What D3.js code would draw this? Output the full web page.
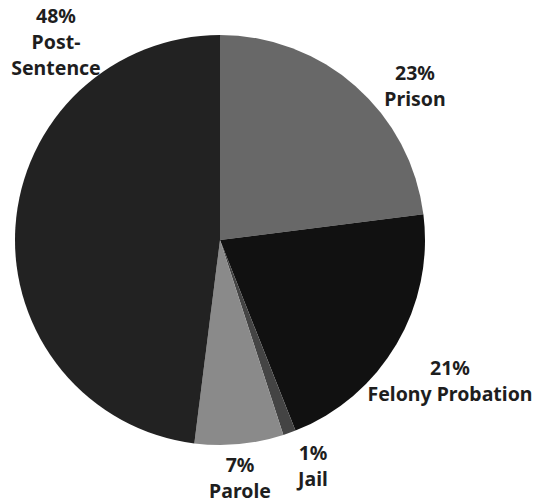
<!DOCTYPE html>
<html>
<head>
<meta charset="utf-8">
<script src="https://cdn.jsdelivr.net/npm/d3@7"></script>
<style>
  body { margin: 0; background: #fff; }
  text { font-family: "Noto Sans", sans-serif; font-weight: 700; fill: #1e1e1e; }
</style>
</head>
<body>
<div id="chart"></div>
<script>
// slices, clockwise from 12 o'clock
const categories = ['Prison', 'Felony Probation', 'Jail', 'Parole', 'Post-Sentence'];
const shares = [23, 21, 1, 7, 48];
const labelLines = [['23%', 'Prison'], ['21%', 'Felony Probation'], ['1%', 'Jail'], ['7%', 'Parole'], ['48%', 'Post-', 'Sentence']];

const colors = ['#686868', '#111111', '#444444', '#8a8a8a', '#222222'];
// label anchor (baseline of first line) in page coordinates
const labelPos = [[415, 80], [450, 375], [313, 460], [240, 472], [56, 23]];

const width = 535;
const height = 503;
const cx = 220, cy = 240;
const radius = 205;

const svg = d3.select('#chart')
  .append('svg')
    .attr('width', width)
    .attr('height', height);

const g = svg.append('g')
  .attr('transform', 'translate(' + cx + ',' + cy + ')');

const pie = d3.pie()
  .sort(null)
  .value((d) => d);
const data_ready = pie(shares);

const arc = d3.arc()
  .innerRadius(0)
  .outerRadius(radius);

g.selectAll('path')
  .data(data_ready)
  .enter()
  .append('path')
    .attr('d', arc)
    .attr('fill', (d, i) => colors[i]);

const labels = svg.selectAll('text.lbl')
  .data(labelLines)
  .enter()
  .append('text')
    .attr('class', 'lbl')
    .attr('text-anchor', 'middle')
    .attr('font-size', 19.5)
    .attr('x', (d, i) => labelPos[i][0])
    .attr('y', (d, i) => labelPos[i][1]);

labels.selectAll('tspan')
  .data((d, i) => d.map((t) => ({ t: t, x: labelPos[i][0] })))
  .enter()
  .append('tspan')
    .attr('x', (d) => d.x)
    .attr('dy', (d, j) => j === 0 ? 0 : 26)
    .text((d) => d.t);
</script>
</body>
</html>
